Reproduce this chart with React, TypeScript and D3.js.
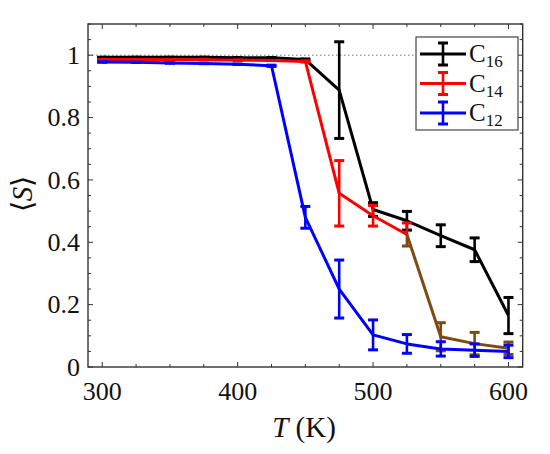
import * as d3 from 'd3';

// temperatures (K)
const temps = [300, 325, 350, 375, 400, 425, 450, 475, 500, 525, 550, 575, 600];

// <S> for each chain length, with error bars
const c16 = [0.993, 0.993, 0.993, 0.993, 0.992, 0.992, 0.986, 0.888, 0.505, 0.469, 0.421, 0.376, 0.165];
const c16Err = [0, 0, 0, 0, 0, 0, 0.002, 0.155, 0.022, 0.03, 0.035, 0.038, 0.058];
const c14 = [0.986, 0.986, 0.985, 0.985, 0.984, 0.983, 0.98, 0.557, 0.485, 0.425, 0.097, 0.075, 0.06];
const c14Err = [0, 0, 0, 0, 0, 0, 0.002, 0.105, 0.033, 0.037, 0.045, 0.036, 0.02];
const c12 = [0.978, 0.977, 0.975, 0.973, 0.971, 0.966, 0.48, 0.25, 0.103, 0.074, 0.058, 0.054, 0.05];
const c12Err = [0, 0, 0, 0, 0, 0.002, 0.035, 0.093, 0.048, 0.03, 0.023, 0.02, 0.02];

const xTicks = [300, 400, 500, 600];
const yTicks = [0, 0.2, 0.4, 0.6, 0.8, 1];
const legendLabels = [['C', '16'], ['C', '14'], ['C', '12']];

// the C14 curve turns brownish past this temperature in the original
const c14BrownFrom = 525;

const W = 550;
const H = 454;
const FONT = 'Liberation Serif';

const x = d3.scaleLinear().domain([289.5, 610.5]).range([88, 522.7]);
const y = d3.scaleLinear().domain([0, 1.1]).range([367, 24]);

type Series = { vals: number[]; err: number[]; color: string };

const series: Series[] = [
  { vals: c16, err: c16Err, color: '#000000' },
  { vals: c14, err: c14Err, color: '#ff0000' },
  { vals: c12, err: c12Err, color: '#0000ff' },
];

const BROWN = '#7d4a12';
const CAP = 5;

const lineFrom = (start: number) =>
  d3
    .line<number>()
    .x((_, i) => x(temps[i + start]))
    .y((d) => y(d));

function ErrorBar({ t, v, e, color, lowColor }: { t: number; v: number; e: number; color: string; lowColor?: string }) {
  const cx = x(t);
  const top = y(v + e);
  const bot = y(v - e);
  const mid = y(v);
  return (
    <g strokeWidth={2.6} fill="none">
      <line x1={cx} x2={cx} y1={top} y2={mid} stroke={color} />
      <line x1={cx} x2={cx} y1={mid} y2={bot} stroke={lowColor || color} />
      <line x1={cx - CAP} x2={cx + CAP} y1={top} y2={top} stroke={color} strokeWidth={3} />
      <line x1={cx - CAP} x2={cx + CAP} y1={bot} y2={bot} stroke={lowColor || color} strokeWidth={3} />
    </g>
  );
}

function SeriesMarks({ s, idx }: { s: Series; idx: number }) {
  const isC14 = idx === 1;
  const split = isC14 ? temps.indexOf(c14BrownFrom) : -1;
  return (
    <g>
      {split >= 0 ? (
        <>
          <path d={lineFrom(0)(s.vals.slice(0, split + 1)) || ''} stroke={s.color} strokeWidth={3} fill="none" strokeLinejoin="round" />
          <path d={lineFrom(split)(s.vals.slice(split)) || ''} stroke={BROWN} strokeWidth={3} fill="none" strokeLinejoin="round" />
        </>
      ) : (
        <path d={lineFrom(0)(s.vals) || ''} stroke={s.color} strokeWidth={3} fill="none" strokeLinejoin="round" />
      )}
      {temps.map((t, i) => {
        let c = s.color;
        let low: string | undefined;
        if (isC14 && t > c14BrownFrom) c = BROWN;
        if (isC14 && t === c14BrownFrom) low = BROWN;
        return <ErrorBar key={t} t={t} v={s.vals[i]} e={s.err[i]} color={c} lowColor={low} />;
      })}
    </g>
  );
}

export default function App() {
  const [x0, x1] = x.range();
  const [y0, y1] = y.range();
  const xMinor = d3.range(300, 611, 25);
  const yMinor = d3.range(0, 1.101, 0.05);
  const legend = { left: 416, top: 37, right: 518, bottom: 130 };
  const rowY = [54, 83.5, 113];

  return (
    <div style={{ position: 'absolute', left: 0, top: 0 }}>
      <svg width={W} height={H} style={{ display: 'block', background: '#fff' }}>
        {/* dotted reference at <S> = 1 */}
        <line x1={x0} x2={legend.left} y1={y(1)} y2={y(1)} stroke="#777" strokeWidth={1} strokeDasharray="1.5,2.5" />

        {series.map((s, i) => (
          <SeriesMarks key={i} s={s} idx={i} />
        ))}

        {/* frame */}
        <rect x={x0} y={y1} width={x1 - x0} height={y0 - y1} fill="none" stroke="#333" strokeWidth={1.4} />

        {/* ticks, inward on all four sides */}
        <g stroke="#333" strokeWidth={1}>
          {xMinor.map((t) => {
            const major = xTicks.includes(t);
            const len = major ? 5 : 3;
            return (
              <g key={'x' + t}>
                <line x1={x(t)} x2={x(t)} y1={y0} y2={y0 - len} />
                <line x1={x(t)} x2={x(t)} y1={y1} y2={y1 + len} />
              </g>
            );
          })}
          {yMinor.map((v) => {
            const major = yTicks.some((m) => Math.abs(m - v) < 1e-6);
            const len = major ? 5 : 3;
            return (
              <g key={'y' + v.toFixed(2)}>
                <line x1={x0} x2={x0 + len} y1={y(v)} y2={y(v)} />
                <line x1={x1} x2={x1 - len} y1={y(v)} y2={y(v)} />
              </g>
            );
          })}
        </g>

        {/* tick labels */}
        {xTicks.map((t) => (
          <text key={'xl' + t} x={x(t)} y={400} textAnchor="middle" fontSize={26} fill="#111" fontFamily={FONT}>
            {t}
          </text>
        ))}
        {yTicks.map((v) => (
          <text key={'yl' + v} x={80} y={y(v)} dy="0.34em" textAnchor="end" fontSize={26} fill="#111" fontFamily={FONT}>
            {v === 0 || v === 1 ? String(v) : v.toFixed(1)}
          </text>
        ))}

        {/* axis titles */}
        <text x={304} y={437} textAnchor="middle" fontSize={29} fill="#111" fontFamily={FONT}>
          <tspan fontStyle="italic">T</tspan>
          <tspan> (K)</tspan>
        </text>
        <text transform="translate(32,194) rotate(-90)" textAnchor="middle" fontSize={29} fill="#111" fontFamily={FONT}>
          ⟨<tspan fontStyle="italic">S</tspan>⟩
        </text>

        {/* legend */}
        <rect
          x={legend.left}
          y={legend.top}
          width={legend.right - legend.left}
          height={legend.bottom - legend.top}
          fill="#fff"
          stroke="#444"
          strokeWidth={1.2}
        />
        {series.map((s, i) => {
          const cy = rowY[i];
          const cx = 443;
          return (
            <g key={'lg' + i}>
              <line x1={420} x2={466} y1={cy} y2={cy} stroke={s.color} strokeWidth={3} />
              <line x1={cx} x2={cx} y1={cy - 11} y2={cy + 11} stroke={s.color} strokeWidth={2.6} />
              <line x1={cx - CAP} x2={cx + CAP} y1={cy - 11} y2={cy - 11} stroke={s.color} strokeWidth={3} />
              <line x1={cx - CAP} x2={cx + CAP} y1={cy + 11} y2={cy + 11} stroke={s.color} strokeWidth={3} />
              <text x={469} y={cy + 8} fontSize={25} fill="#111" fontFamily={FONT}>
                {legendLabels[i][0]}
                <tspan fontSize={17} dy={5}>
                  {legendLabels[i][1]}
                </tspan>
              </text>
            </g>
          );
        })}
      </svg>
    </div>
  );
}
